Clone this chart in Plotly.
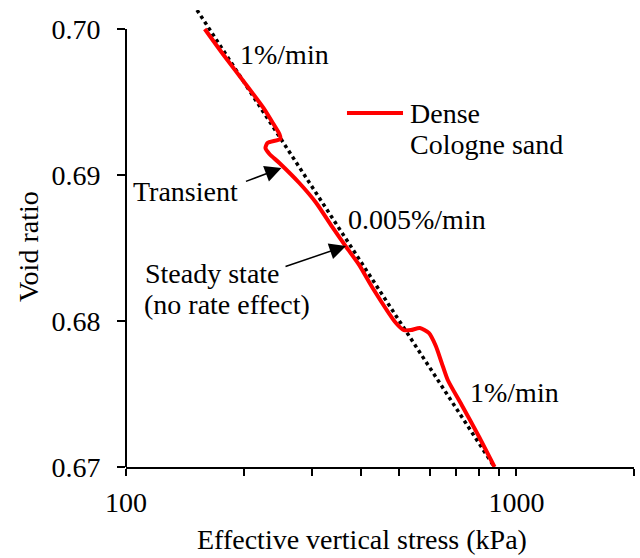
import numpy as np
import plotly.graph_objects as go

# ---- data ----
# measured curve: dense Cologne sand
stress_kpa = [159.1, 177.8, 206.1, 224.9, 238.6, 247.1, 248.6, 230.3, 227.6, 233.0,
              247.1, 277.9, 307.1, 337.4, 366.3, 395.4, 426.7, 491.3, 514.9, 536.6,
              565.7, 596.4, 621.5, 643.8, 666.9, 724.0, 800.0, 878.8]
void_ratio = [0.7000, 0.69822, 0.69596, 0.69459, 0.69349, 0.69281, 0.69247, 0.69219,
              0.69185, 0.69144, 0.69082, 0.68945, 0.68808, 0.68644, 0.68507, 0.68384,
              0.68233, 0.67986, 0.67938, 0.67938, 0.67952, 0.67918, 0.67829, 0.67712,
              0.67596, 0.67425, 0.67212, 0.67000]

# reference (steady state) line
ref_stress = [152.0, 878.0]
ref_void = [0.7013, 0.6700]

# axis ticks
x_tickvals = [100, 200, 300, 400, 500, 600, 700, 800, 900, 1000, 2000]
x_ticktext = ["100", "", "", "", "", "", "", "", "", "1000", ""]
y_tickvals = [0.67, 0.68, 0.69, 0.70]
y_ticktext = ["0.67", "0.68", "0.69", "0.70"]

# arrow targets
transient_pt = (250.1, 0.69048)
steady_pt = (366.0, 0.68514)

FONT = '"Liberation Serif", "Times New Roman", Times, serif'
FS = 28

fig = go.Figure()
fig.add_trace(go.Scatter(x=ref_stress, y=ref_void, mode="lines",
                         line=dict(color="black", width=3.5, dash="dot"),
                         showlegend=False, hoverinfo="skip"))
fig.add_trace(go.Scatter(x=stress_kpa, y=void_ratio, mode="lines",
                         line=dict(color="#ff0000", width=4, shape="spline", smoothing=0.6),
                         name="Dense Cologne sand", showlegend=False))

fig.update_layout(
    width=640, height=558,
    margin=dict(l=126, r=6, t=10, b=91),
    paper_bgcolor="white", plot_bgcolor="white",
    font=dict(family=FONT, size=FS, color="black"),
    xaxis=dict(type="log", range=[2, np.log10(2000)], showline=True, linecolor="black",
               linewidth=2, ticks="outside", ticklen=7, tickwidth=2, tickcolor="black",
               tickvals=x_tickvals, ticktext=x_ticktext, showgrid=False, zeroline=False,
               tickfont=dict(family=FONT, size=FS), ticklabelstandoff=2),
    yaxis=dict(range=[0.67, 0.7013], showline=False, ticks="outside", ticklen=8,
               tickwidth=2, tickcolor="black", tickvals=y_tickvals, ticktext=y_ticktext,
               showgrid=False, zeroline=False, tickfont=dict(family=FONT, size=FS),
               ticklabelstandoff=11),
)

# y axis line ending at 0.70
fig.add_shape(type="line", xref="paper", yref="y", x0=0, x1=0, y0=0.67, y1=0.70,
              line=dict(color="black", width=2))

# legend (manual)
fig.add_shape(type="line", xref="paper", yref="paper", x0=0.435, x1=0.5453,
              y0=0.7746, y1=0.7746, line=dict(color="#ff0000", width=4))

def txt(s, x, y):
    fig.add_annotation(text=s, xref="paper", yref="paper", x=x, y=y,
                       xanchor="left", yanchor="middle", showarrow=False,
                       font=dict(family=FONT, size=FS, color="black"))

txt("Dense", 0.5551, 0.7746)
txt("Cologne sand", 0.5551, 0.7046)
txt("1%/min", 0.2200, 0.9037)
txt("0.005%/min", 0.4331, 0.5405)
txt("Transient", 0.0100, 0.6018)
txt("Steady state", 0.0335, 0.4245)
txt("(no rate effect)", 0.0315, 0.3545)
txt("1%/min", 0.6732, 0.1641)

# arrows
for (sx, sy), (ax, ay) in [(transient_pt, (-37, 14)), (steady_pt, (-62, 21))]:
    fig.add_annotation(text="", x=np.log10(sx), y=sy, xref="x", yref="y",
                       showarrow=True, ax=ax, ay=ay, arrowhead=2, arrowsize=2.2,
                       arrowwidth=1.5, arrowcolor="black")

# axis titles
fig.add_annotation(text="Effective vertical stress (kPa)", xref="paper", yref="paper",
                   x=(362 - 126) / 508, y=(467 - 539) / 457, xanchor="center",
                   yanchor="middle", showarrow=False, font=dict(family=FONT, size=FS))
fig.add_annotation(text="Void ratio", xref="paper", yref="paper",
                   x=(29 - 126) / 508, y=(467 - 247) / 457, xanchor="center",
                   yanchor="middle", textangle=-90, showarrow=False,
                   font=dict(family=FONT, size=FS))

fig.write_html("out.html", config={"displayModeBar": False},
               post_script="document.body.style.margin='0px';document.body.style.overflow='hidden';")
